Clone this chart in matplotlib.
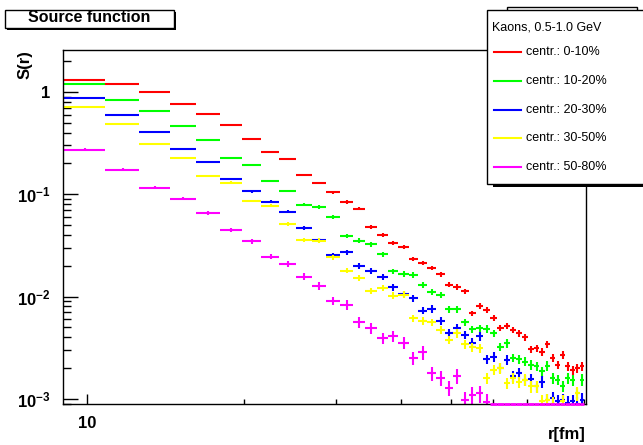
import numpy as np
import matplotlib
matplotlib.use("Agg")
import matplotlib.pyplot as plt
from matplotlib.ticker import FixedLocator, FixedFormatter, NullFormatter
from matplotlib.patches import Rectangle
from matplotlib.lines import Line2D

plt.rcParams['font.family'] = ['Liberation Sans', 'DejaVu Sans']
plt.rcParams['mathtext.fontset'] = 'custom'
plt.rcParams['mathtext.rm'] = 'Liberation Sans'
plt.rcParams['mathtext.bf'] = 'Liberation Sans:bold'

# binning in r [fm]
r_start = 9.0
bin_width = 1.8
n_bins = 45
r_centers = r_start + bin_width * (np.arange(n_bins) + 0.5)

labels = ["centr.: 0-10%", "centr.: 10-20%", "centr.: 20-30%",
          "centr.: 30-50%", "centr.: 50-80%"]
colors = ["#ff0000", "#00ff00", "#0000ff", "#ffff00", "#ff00ff"]
nan = np.nan

s_0_10 = [1.31, 1.20, 1.00, 0.758, 0.605, 0.479, 0.347, 0.261, 0.221, 0.155,
          0.129, 0.105, 0.084, 0.0724, 0.048, 0.0397, 0.0336, 0.0308, 0.0232, 0.0212,
          0.019, 0.0165, 0.013, 0.0124, 0.0113, 0.00687, 0.0081, 0.0074, 0.00622, 0.0049,
          0.00516, 0.00472, 0.00437, 0.00399, 0.00305, 0.00313, 0.00289, 0.00342, 0.0025, 0.00215,
          0.0027, 0.00208, 0.0019, 0.00199, 0.0021]
s_10_20 = [1.197, 0.84, 0.647, 0.466, 0.34, 0.228, 0.192, 0.135, 0.108, 0.0786,
           0.0751, 0.0604, 0.0391, 0.0352, 0.0324, 0.026, 0.0177, 0.0166, 0.0162, 0.013,
           0.011, 0.0103, 0.0075, 0.0075, 0.0056, 0.0048, 0.0049, 0.0048, 0.00437, 0.00324,
           0.0035, 0.00253, 0.00245, 0.00231, 0.00215, 0.00208, 0.00185, 0.0021, 0.00159, 0.00153,
           0.00132, 0.00159, 0.00153, 0.00113, 0.00153]
s_20_30 = [0.867, 0.6, 0.409, 0.279, 0.205, 0.141, 0.107, 0.0846, 0.0676, 0.0465,
           0.0357, 0.0255, 0.0271, 0.0199, 0.0177, 0.0155, 0.0123, 0.0106, 0.0096, 0.00728,
           0.00758, 0.00582, 0.00437, 0.0049, 0.00422, 0.00355, 0.0041, 0.00245, 0.00258, 0.0020,
           0.0024, 0.00166, 0.00178, 0.00153, 0.00155, 0.00132, 0.00146, 0.00098, 0.00102, 0.00095,
           0.00098, 0.00092, 0.00095, 0.0009, 0.00098]
s_30_50 = [0.708, 0.49, 0.313, 0.228, 0.152, 0.13, 0.086, 0.0769, 0.0513, 0.0357,
           0.0352, 0.0242, 0.0179, 0.0152, 0.0113, 0.0122, 0.0102, 0.0104, 0.00614, 0.00582,
           0.0056, 0.00472, 0.00376, 0.00437, 0.00344, 0.00319, 0.00313, 0.00159, 0.00192, 0.00199,
           0.00142, 0.00159, 0.00146, 0.00153, 0.00132, 0.00132, 0.00095, 0.00098, 0.0009, nan,
           0.00095, nan, nan, 0.00113, nan]
s_50_80 = [0.273, 0.174, 0.116, 0.0906, 0.0656, 0.0445, 0.0347, 0.0246, 0.0207, 0.0156,
           0.0128, 0.0091, 0.0083, 0.0056, 0.0049, 0.00392, 0.0041, 0.00355, 0.0025, 0.00285,
           0.00178, 0.00161, 0.00127, 0.00168, 0.00098, 0.00109, 0.00113, 0.00093, 0, 0,
           0, 0, 0, 0, 0, 0, 0, 0, 0, 0,
           0, 0, 0, 0, 0]
series = [s_0_10, s_10_20, s_20_30, s_30_50, s_50_80]

# relative statistical errors per bin, scaled per centrality class
rel_err = [0.01, 0.01, 0.01, 0.012, 0.013, 0.015, 0.018, 0.02, 0.023, 0.026,
           0.029, 0.032, 0.035, 0.038, 0.04, 0.042, 0.044, 0.046, 0.048, 0.05,
           0.052, 0.054, 0.056, 0.058, 0.06, 0.062, 0.064, 0.066, 0.068, 0.07,
           0.072, 0.074, 0.076, 0.078, 0.08, 0.082, 0.084, 0.086, 0.088, 0.09,
           0.092, 0.094, 0.096, 0.098, 0.1]
err_scale = [1.0, 1.3, 1.6, 1.7, 3.0]

W, H = 643, 445
ymin, ymax = 8.9e-4, 2.57

fig = plt.figure(figsize=(W / 100, H / 100), dpi=100)
ax = fig.add_axes([63 / W, 41 / H, 523 / W, 354 / H])
ax.set_xscale("log")
ax.set_yscale("log")
ax.set_xlim(8.99, 90.7)
ax.set_ylim(ymin, ymax)

for vals, col, sc in zip(series, colors, err_scale):
    v = np.array(vals, dtype=float)
    yerr = v * np.array(rel_err) * sc
    filled = v > 0
    ax.errorbar(r_centers[filled], v[filled], xerr=bin_width / 2, yerr=yerr[filled],
                fmt="none", ecolor=col, elinewidth=1.5, capsize=0)
    # empty bins sit on the bottom of the frame, like ROOT draws them
    empty = v == 0
    if empty.any():
        ax.errorbar(r_centers[empty], np.full(empty.sum(), ymin), xerr=bin_width / 2,
                    fmt="none", ecolor=col, elinewidth=2, capsize=0,
                    clip_on=False, zorder=5)

# ticks, ROOT style (inside, left/bottom only)
ax.xaxis.set_major_locator(FixedLocator([10]))
ax.xaxis.set_major_formatter(FixedFormatter(["10"]))
ax.xaxis.set_minor_locator(FixedLocator([20, 30, 40, 50, 60, 70, 80, 90]))
ax.xaxis.set_minor_formatter(NullFormatter())
ax.yaxis.set_major_locator(FixedLocator([1e-3, 1e-2, 1e-1, 1]))
ax.yaxis.set_major_formatter(FixedFormatter([r"$\mathbf{10^{-3}}$", r"$\mathbf{10^{-2}}$",
                                             r"$\mathbf{10^{-1}}$", "1"]))
ax.yaxis.set_minor_locator(FixedLocator([m * 10.0 ** e for e in range(-4, 1) for m in range(2, 10)]))
ax.yaxis.set_minor_formatter(NullFormatter())
ax.tick_params(axis="both", which="both", direction="in", top=False, right=False,
               width=1, color="black")
ax.tick_params(axis="y", which="major", length=11, pad=9, labelsize=12)
ax.tick_params(axis="y", which="minor", length=5.8)
ax.tick_params(axis="x", which="major", length=7, pad=9, labelsize=12)
ax.tick_params(axis="x", which="minor", length=3.6)
for lab in ax.get_xticklabels() + ax.get_yticklabels():
    lab.set_fontweight("bold")
for sp in ax.spines.values():
    sp.set_linewidth(1)

def fx(x):
    return x / W

def fy(y):
    return 1 - y / H

fig.text(fx(25), fy(50), "S(r)", rotation=90, ha="center", va="top",
         fontsize=12, fontweight="bold")
fig.text(fx(586), fy(435), "r[fm]", ha="right", va="center",
         fontsize=12, fontweight="bold")

# title box with shadow
fig.add_artist(Rectangle((fx(7), fy(30)), fx(169), 18 / H, transform=fig.transFigure,
                         facecolor="black", edgecolor="black", lw=0))
fig.add_artist(Rectangle((fx(5), fy(28)), fx(169), 18 / H, transform=fig.transFigure,
                         facecolor="white", edgecolor="black", lw=1))
fig.text(fx(89), fy(18), "Source function", ha="center", va="center",
         fontsize=11.5, fontweight="bold")

# box behind legend
fig.add_artist(Rectangle((fx(507), fy(40)), fx(130), 33 / H, transform=fig.transFigure,
                         facecolor="white", edgecolor="black", lw=1))
# legend box with shadow
fig.add_artist(Rectangle((fx(493), fy(187)), fx(160), 174 / H, transform=fig.transFigure,
                         facecolor="black", edgecolor="black", lw=0))
fig.add_artist(Rectangle((fx(487), fy(184)), fx(160), 174 / H, transform=fig.transFigure,
                         facecolor="white", edgecolor="black", lw=1))
fig.text(fx(492), fy(27), "Kaons, 0.5-1.0 GeV", ha="left", va="center", fontsize=9)
entry_y = [52, 81, 110, 138, 167]
for yy, col, lab in zip(entry_y, colors, labels):
    fig.add_artist(Line2D([fx(494), fx(521)], [fy(yy), fy(yy)], transform=fig.transFigure,
                          color=col, lw=1.5))
    fig.text(fx(526), fy(yy), lab, ha="left", va="center", fontsize=9)

fig.savefig("out.png", dpi=100)
